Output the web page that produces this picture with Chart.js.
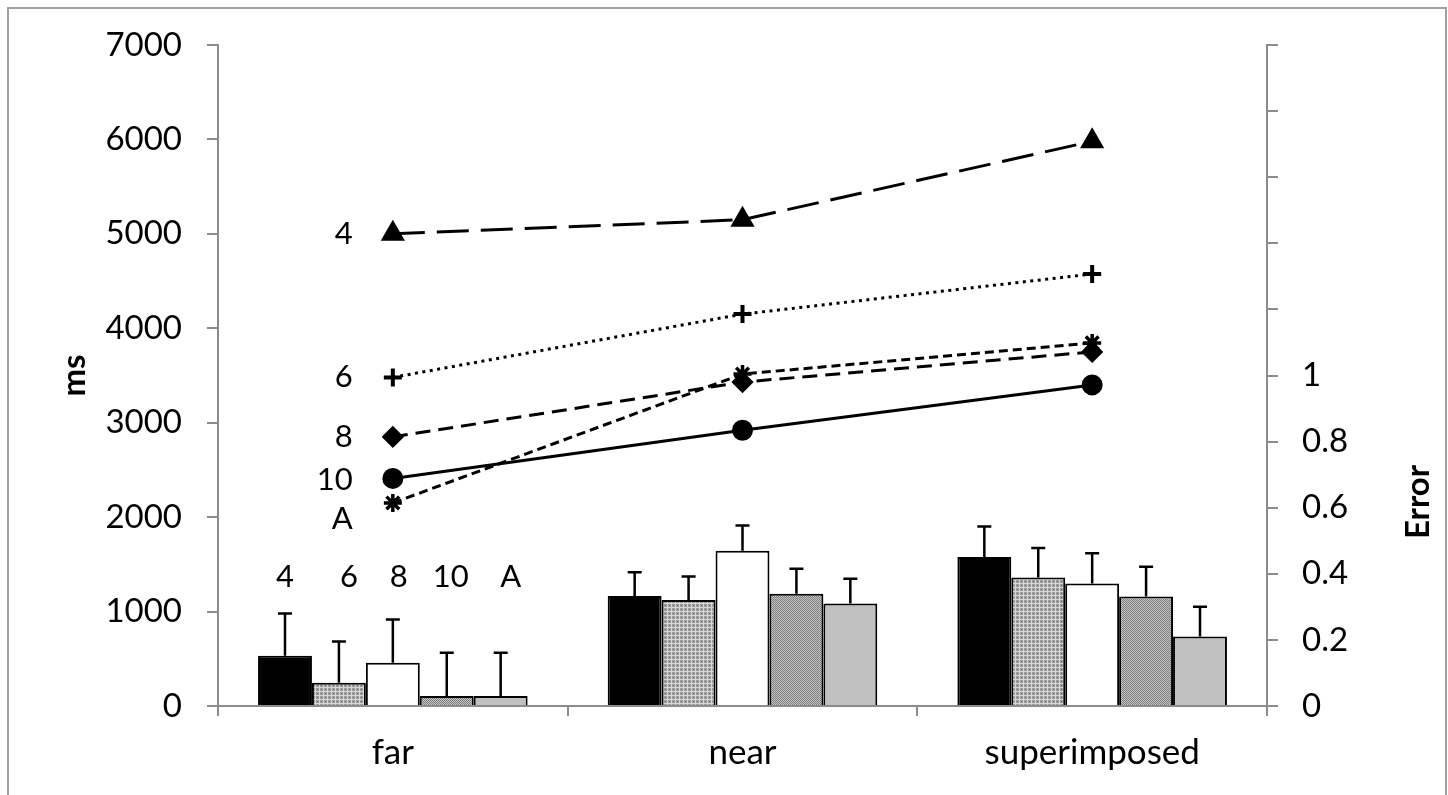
<!DOCTYPE html>
<html>
<head>
<meta charset="utf-8">
<script src="https://cdn.jsdelivr.net/npm/chart.js@4.4.1/dist/chart.umd.min.js"></script>
<style>
  body { margin: 0; background: #fff; }
  #wrap { position: relative; width: 1448px; height: 795px; overflow: hidden; }
  #frame { position: absolute; left: 7px; top: 7px; width: 1436px; height: 800px; border: 2px solid #a0a0a0; pointer-events: none; }
  canvas { position: absolute; left: 0; top: 0; }
</style>
</head>
<body>
<div id="wrap">
  <canvas id="chart" width="1448" height="795"></canvas>
  <div id="frame"></div>
</div>
<script>
// conditions on the x axis and set sizes (series)
const conditions = ['far', 'near', 'superimposed'];
const setSizes = ['4', '6', '8', '10', 'A'];

// reaction times (ms), left axis
const rt4 = [5000, 5150, 5980];
const rt6 = [3480, 4150, 4575];
const rt8 = [2850, 3430, 3750];
const rt10 = [2410, 2920, 3400];
const rtA = [2150, 3515, 3845];

// error rates, right axis
const err4 = [0.152, 0.333, 0.451];
const err6 = [0.070, 0.321, 0.389];
const err8 = [0.131, 0.470, 0.371];
const err10 = [0.030, 0.340, 0.331];
const errA = [0.030, 0.310, 0.210];

// error bar sizes (upper half only)
const sd4 = [0.128, 0.072, 0.092];
const sd6 = [0.125, 0.071, 0.089];
const sd8 = [0.131, 0.076, 0.091];
const sd10 = [0.131, 0.075, 0.090];
const sdA = [0.131, 0.075, 0.090];

const msTicks = { min: 0, max: 7000, step: 1000 };
const errorTicks = { min: 0, max: 2, step: 0.2, lastLabel: 1 };

function makePattern(size, draw) {
  const c = document.createElement('canvas');
  c.width = size; c.height = size;
  const g = c.getContext('2d');
  draw(g);
  return g.createPattern(c, 'repeat');
}

const dotted = makePattern(4, g => {
  g.fillStyle = '#9c9c9c'; g.fillRect(0, 0, 4, 4);
  g.fillStyle = '#d6d6d6'; g.fillRect(0, 3, 4, 1); g.fillRect(3, 0, 1, 4);
  g.fillStyle = '#707070'; g.fillRect(1, 1, 1, 1);
});
const speckled = makePattern(2, g => {
  g.fillStyle = '#c4c4c4'; g.fillRect(0, 0, 2, 2);
  g.fillStyle = '#7e7e7e'; g.fillRect(0, 0, 1, 1); g.fillRect(1, 1, 1, 1);
});

const barFills = ['#000000', dotted, '#ffffff', speckled, '#c0c0c0'];
const errSets = [err4, err6, err8, err10, errA];
const sdSets = [sd4, sd6, sd8, sd10, sdA];
const rtSets = [rt4, rt6, rt8, rt10, rtA];
const lineDash = [[32, 12], [3, 4.5], [15, 8], [], [9, 5]];
const markers = ['triangle', 'cross', 'rectRot', 'circle', 'star'];
const markerSize = [11, 9, 9, 9, 9];
const markerStroke = [3, 4, 3, 3, 3.5];

const datasets = [];
setSizes.forEach((s, i) => {
  datasets.push({
    type: 'line',
    label: s,
    data: rtSets[i],
    yAxisID: 'y',
    order: 0,
    borderColor: '#000',
    backgroundColor: '#000',
    borderWidth: 3,
    borderDash: lineDash[i],
    pointStyle: markers[i],
    pointRadius: markerSize[i],
    pointBorderWidth: markerStroke[i],
    pointBorderColor: '#000',
    pointBackgroundColor: '#000',
    tension: 0
  });
});
setSizes.forEach((s, i) => {
  datasets.push({
    type: 'bar',
    label: s,
    data: errSets[i],
    sd: sdSets[i],
    yAxisID: 'y1',
    order: 1,
    backgroundColor: barFills[i],
    borderColor: '#000',
    borderWidth: 2,
    borderSkipped: 'bottom',
    categoryPercentage: 0.771,
    barPercentage: 1
  });
});

const FONT = 'Lato';
const axisGray = '#8c8c8c';

const annotate = {
  id: 'annotate',
  afterDatasetDraw(chart, args) {
    const ds = chart.data.datasets[args.index];
    if (ds.type !== 'bar') return;
    const ctx = chart.ctx, y1 = chart.scales.y1;
    ctx.save();
    ctx.strokeStyle = '#000';
    ctx.lineWidth = 2.5;
    args.meta.data.forEach((bar, j) => {
      const top = y1.getPixelForValue(ds.data[j] + ds.sd[j]);
      ctx.beginPath();
      ctx.moveTo(bar.x, bar.y);
      ctx.lineTo(bar.x, top);
      ctx.moveTo(bar.x - 7, top);
      ctx.lineTo(bar.x + 7, top);
      ctx.stroke();
    });
    ctx.restore();
  },
  afterDraw(chart) {
    const ctx = chart.ctx;
    const { x, y, y1 } = chart.scales;
    ctx.save();
    ctx.fillStyle = '#000';
    ctx.font = '31px ' + FONT;
    ctx.textBaseline = 'middle';

    // set size labels next to the first line points
    const shift = [0, 0, 0, 2, 16];
    ctx.textAlign = 'right';
    setSizes.forEach((s, i) => {
      ctx.fillText(s, x.getPixelForValue(0) - 40, y.getPixelForValue(rtSets[i][0]) + shift[i]);
    });

    // set size labels above the 'far' bars
    const nudge = [0, 10, 6, 4, 10];
    ctx.textAlign = 'center';
    setSizes.forEach((s, i) => {
      const meta = chart.getDatasetMeta(setSizes.length + i);
      ctx.fillText(s, meta.data[0].x + nudge[i], y1.getPixelForValue(0.39));
    });

    // axis titles
    ctx.font = 'bold 33px ' + FONT;
    ctx.translate(74, (y.top + y.bottom) / 2);
    ctx.rotate(-Math.PI / 2);
    ctx.fillText('ms', 0, 0);
    ctx.setTransform(1, 0, 0, 1, 0, 0);
    ctx.translate(1418, 502);
    ctx.rotate(-Math.PI / 2);
    ctx.fillText('Error', 0, 0);
    ctx.restore();
  }
};

new Chart(document.getElementById('chart'), {
  data: { labels: conditions, datasets: datasets },
  options: {
    responsive: false,
    devicePixelRatio: 1,
    animation: false,
    layout: { padding: { top: 45, left: 0, right: 0, bottom: 0 } },
    plugins: { legend: { display: false }, tooltip: { enabled: false } },
    scales: {
      x: {
        offset: true,
        grid: { offset: true, drawOnChartArea: false, tickLength: 10, color: axisGray, lineWidth: 2 },
        border: { color: axisGray, width: 2 },
        ticks: { color: '#000', font: { family: FONT, size: 35 }, padding: 16, maxRotation: 0 },
        afterFit(s) { s.height = 89; }
      },
      y: {
        position: 'left',
        min: msTicks.min, max: msTicks.max,
        grid: { drawOnChartArea: false, tickLength: 11, color: axisGray, lineWidth: 2 },
        border: { color: axisGray, width: 2 },
        ticks: {
          stepSize: msTicks.step,
          color: '#000',
          font: { family: FONT, size: 33 },
          padding: 25,
          callback: v => String(v)
        },
        afterFit(s) { s.width = 218; }
      },
      y1: {
        position: 'right',
        min: errorTicks.min, max: errorTicks.max,
        grid: { drawOnChartArea: false, tickLength: 11, color: axisGray, lineWidth: 2 },
        border: { color: axisGray, width: 2 },
        ticks: {
          stepSize: errorTicks.step,
          color: '#000',
          font: { family: FONT, size: 33 },
          padding: 24,
          callback: v => (v <= errorTicks.lastLabel + 1e-9 ? String(Math.round(v * 10) / 10) : '')
        },
        afterFit(s) { s.width = 181; }
      }
    }
  },
  plugins: [annotate]
});
</script>
</body>
</html>
